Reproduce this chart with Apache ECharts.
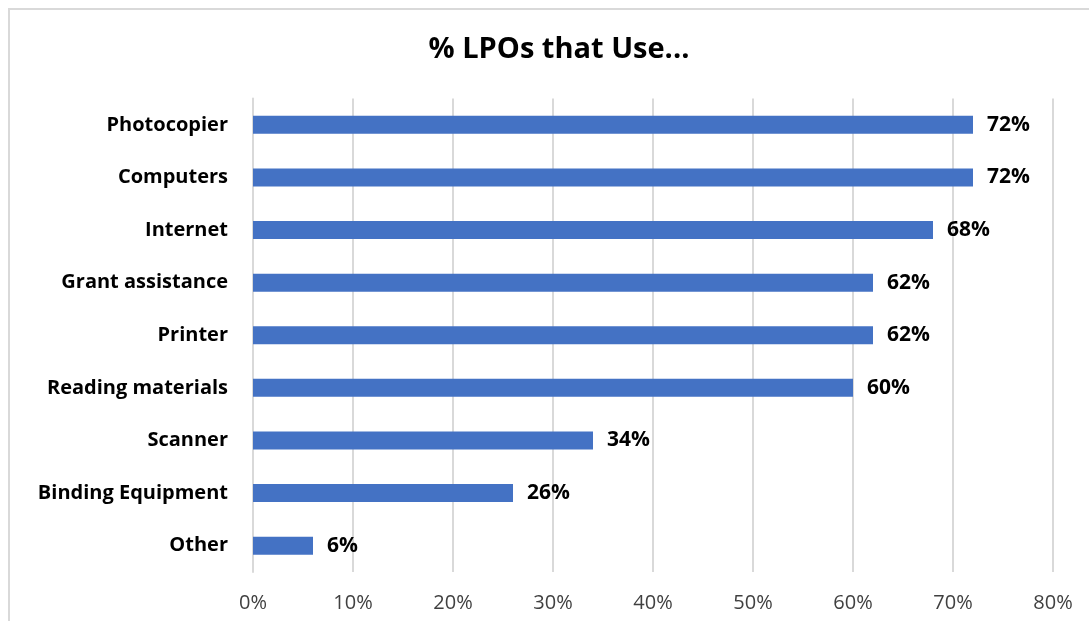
<!DOCTYPE html>
<html>
<head>
<meta charset="utf-8">
<script src="https://cdn.jsdelivr.net/npm/echarts@6/dist/echarts.min.js"></script>
<style>
  html, body { margin: 0; padding: 0; background: #fff; }
  #frame { position: absolute; left: 8px; top: 8px; width: 1100px; height: 640px; border: 2px solid #d9d9d9; box-sizing: border-box; }
  #chart { position: absolute; left: 0; top: 0; width: 1089px; height: 621px; }
</style>
</head>
<body>
<div id="frame"></div>
<div id="chart"></div>
<script>
// Share of LPOs using each resource (percent)
const categories = ['Photocopier', 'Computers', 'Internet', 'Grant assistance', 'Printer',
  'Reading materials', 'Scanner', 'Binding Equipment', 'Other'];
const usage = [72, 72, 68, 62, 62, 60, 34, 26, 6];
const tickValues = [0, 10, 20, 30, 40, 50, 60, 70, 80];

const chart = echarts.init(document.getElementById('chart'), null, { renderer: 'canvas' });
chart.setOption({
  backgroundColor: 'transparent',
  animation: false,
  title: {
    text: '% LPOs that Use...',
    left: 554, top: 30, textAlign: 'center',
    textStyle: { fontFamily: 'Open Sans', fontWeight: 'bold', fontSize: 29, color: '#000' }
  },
  grid: { left: 253, right: 36, top: 98.5, bottom: 49 },
  xAxis: {
    type: 'value', min: tickValues[0], max: tickValues[tickValues.length - 1], interval: 10,
    axisLine: { show: false }, axisTick: { show: false },
    splitLine: { show: true, lineStyle: { color: '#d9d9d9', width: 2 } },
    axisLabel: {
      formatter: v => v + '%', margin: 21,
      fontFamily: 'Open Sans', fontSize: 20, color: '#404040'
    }
  },
  yAxis: {
    type: 'category', data: categories, inverse: true,
    axisLine: { show: true, lineStyle: { color: '#d9d9d9', width: 2 } },
    axisTick: { show: false },
    axisLabel: {
      margin: 25, fontFamily: 'Open Sans', fontWeight: 'bold', fontSize: 20, color: '#000'
    }
  },
  series: [{
    type: 'bar', data: usage, barWidth: 18,
    itemStyle: { color: '#4472C4' },
    label: {
      show: true, position: 'right', distance: 14, formatter: p => p.value + '%',
      fontFamily: 'Open Sans', fontWeight: 'bold', fontSize: 21, color: '#000'
    }
  }]
});
</script>
</body>
</html>
